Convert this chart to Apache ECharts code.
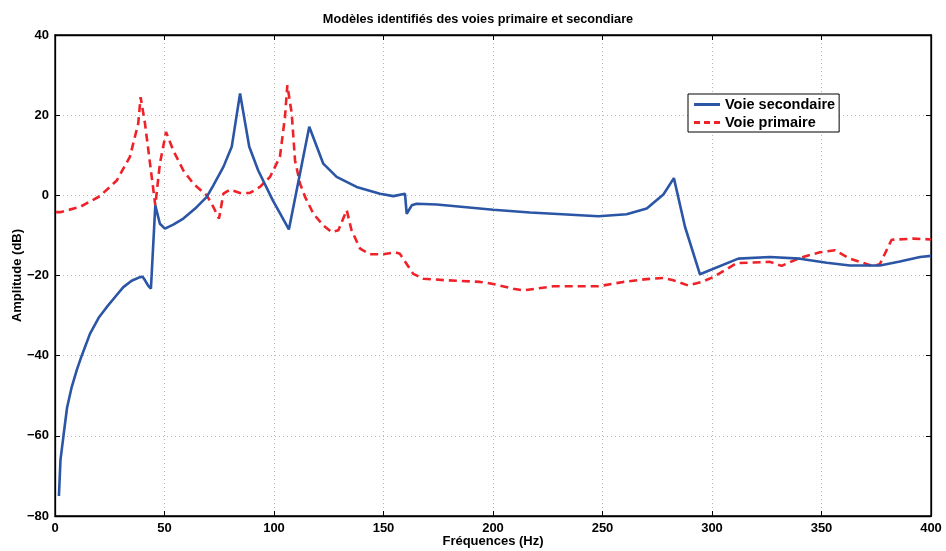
<!DOCTYPE html>
<html>
<head>
<meta charset="utf-8">
<script src="https://cdn.jsdelivr.net/npm/echarts@6/dist/echarts.min.js"></script>
<style>
html,body{margin:0;padding:0;background:#fff;}
#chart{width:946px;height:551px;}
</style>
</head>
<body>
<div id="chart"></div>
<script>
// Voie secondaire (blue, solid)
var secX = [1.8, 2.5, 3.8, 5.5, 7.6, 10, 12.2, 16, 20, 23.6, 28, 31.2, 35, 38.8, 40, 41.1, 42.5, 43.8, 45.8, 47.9, 50.2, 54, 58.6, 64, 69.3, 72.3, 76.9, 80.7, 84.5, 88.7, 92.8, 99.4, 106.8, 116.1, 122.5, 128.6, 137.7, 148.4, 154.5, 159.8, 160.6, 162.9, 165.1, 174.3, 200.1, 216.9, 227.5, 248.1, 261.0, 270.2, 277.8, 282.6, 287.7, 294.5, 312, 326.5, 340.2, 352.4, 363, 376.7, 385.8, 395, 400];
var secY = [-75, -66, -60.3, -53, -47.9, -43.5, -40, -34.5, -30.5, -27.9, -25, -22.9, -21.3, -20.4, -20.3, -21.2, -22.5, -23.3, -2.5, -7.1, -8.3, -7.3, -5.8, -3.3, -0.4, 2.5, 7.1, 12.1, 25.4, 12.1, 6.2, -1.2, -8.5, 17.1, 7.9, 4.6, 2.1, 0.4, -0.2, 0.4, -4.6, -2.5, -2.1, -2.3, -3.6, -4.3, -4.6, -5.2, -4.7, -3.3, 0.2, 4.3, -7.9, -19.7, -15.8, -15.4, -15.8, -16.8, -17.5, -17.5, -16.5, -15.4, -15.1];
// Voie primaire (red, dashed)
var priX = [0.5, 2.3, 11.4, 20.5, 28.2, 34.2, 38, 39.1, 41.1, 43.4, 45.8, 47.9, 50.7, 54, 58.6, 63.2, 69.3, 72.3, 74.9, 76.9, 79.9, 84.5, 89, 93.6, 98.2, 102.7, 105, 106.1, 108.1, 109.6, 111.9, 114.2, 118, 122.5, 126.3, 129.4, 133.2, 135.4, 139.3, 143.8, 149.9, 155.3, 157.5, 163.6, 168.2, 178.9, 194.1, 200.1, 209.3, 214, 227.5, 248.1, 259.5, 270.2, 277.8, 282.3, 289.2, 295.3, 300.6, 311.3, 326.5, 331.8, 340.2, 349.3, 356.2, 363, 373.6, 376.7, 382, 391.9, 400];
var priY = [-4.2, -4.2, -2.9, -0.2, 3.7, 9.6, 17.9, 24.5, 17.9, 7.9, -2.5, 7.9, 15.8, 11.2, 6.2, 2.9, 0, -2.9, -5.8, 0.4, 1.4, 0.6, 0.6, 2.1, 4.6, 9.6, 19.5, 27.5, 20.4, 8.7, 2.9, -0.4, -4.6, -7.5, -9.2, -8.7, -3.7, -8.7, -13.3, -14.7, -14.7, -14.2, -14.6, -19.6, -20.8, -21.2, -21.6, -22.1, -23.3, -23.7, -22.7, -22.7, -21.6, -20.9, -20.6, -21.2, -22.5, -21.6, -20.4, -16.9, -16.6, -17.6, -15.6, -14.2, -13.7, -15.8, -17.7, -17.1, -11.1, -10.8, -11.0];
var xTicks = [0, 50, 100, 150, 200, 250, 300, 350, 400];
var yTicks = [-80, -60, -40, -20, 0, 20, 40];

function pairs(xs, ys){ return xs.map(function(x,i){ return [x, ys[i]]; }); }

var FONT = '"Liberation Sans", Arial, sans-serif';
var chart = echarts.init(document.getElementById('chart'), null, {renderer:'canvas'});
var lbl = {color:'#000', fontFamily:FONT, fontWeight:'bold', fontSize:13};
function minus(v){ return String(v).replace('-', '\u2212'); }
var axisLineStyle = {show:true, onZero:false, lineStyle:{color:'#000', width:1.3}};
var tick = {show:true, inside:true, length:5, lineStyle:{color:'#000', width:1}};
var gridLine = {show:true, lineStyle:{color:'#b8b8b8', type:[1,3], width:1}};
chart.setOption({
  animation:false,
  backgroundColor:'#fff',
  title:{
    text:'Modèles identifiés des voies primaire et secondiare',
    left:473, top:8, textAlign:'center',
    textStyle:{fontFamily:FONT, fontWeight:'bold', fontSize:12.7, color:'#000'}
  },
  legend:{
    left:688, top:94, orient:'vertical',
    backgroundColor:'#fff', borderColor:'#000', borderWidth:1,
    padding:[3,4,2,6], itemGap:3, itemWidth:26, itemHeight:3,
    textStyle:{fontFamily:FONT, fontWeight:'bold', fontSize:14.5, color:'#000'},
    data:[
      {name:'Voie secondaire', icon:'path://M0,0L26,0L26,3L0,3Z'},
      {name:'Voie primaire', icon:'path://M0,0L6,0L6,3L0,3ZM10,0L16,0L16,3L10,3ZM20,0L26,0L26,3L20,3Z'}
    ]
  },
  grid:{left:55, right:15, top:35, bottom:35, outerBoundsMode:'none', containLabel:false,
        show:true, borderColor:'#000', borderWidth:1.3, backgroundColor:'#fff'},
  xAxis:[{
    type:'value', min:0, max:400, interval:50, position:'bottom',
    name:'Fréquences (Hz)', nameLocation:'middle', nameGap:19, nameMoveOverlap:false,
    nameTextStyle:lbl,
    axisLine:axisLineStyle, axisTick:tick,
    axisLabel:Object.assign({margin:6, formatter:minus}, lbl),
    splitLine:gridLine
  },{
    type:'value', min:0, max:400, interval:50, position:'top',
    axisLine:axisLineStyle, axisTick:tick,
    axisLabel:{show:false}, splitLine:{show:false}
  }],
  yAxis:[{
    type:'value', min:-80, max:40, interval:20, position:'left',
    name:'Amplitude (dB)', nameLocation:'middle', nameGap:31, nameRotate:90, nameMoveOverlap:false,
    nameTextStyle:lbl,
    axisLine:axisLineStyle, axisTick:tick,
    axisLabel:Object.assign({margin:6, formatter:minus}, lbl),
    splitLine:gridLine
  },{
    type:'value', min:-80, max:40, interval:20, position:'right',
    axisLine:axisLineStyle, axisTick:tick,
    axisLabel:{show:false}, splitLine:{show:false}
  }],
  series:[{
    name:'Voie secondaire', type:'line', xAxisIndex:0, yAxisIndex:0,
    data:pairs(secX, secY), symbol:'none', smooth:false,
    lineStyle:{color:'#2b55a5', width:2.6}, itemStyle:{color:'#2b55a5'}, z:3
  },{
    name:'Voie primaire', type:'line', xAxisIndex:0, yAxisIndex:0,
    data:pairs(priX, priY), symbol:'none', smooth:false,
    lineStyle:{color:'#ee2228', width:2.6, type:[8,5]}, itemStyle:{color:'#ee2228'}, z:2
  }]
});
</script>
</body>
</html>
